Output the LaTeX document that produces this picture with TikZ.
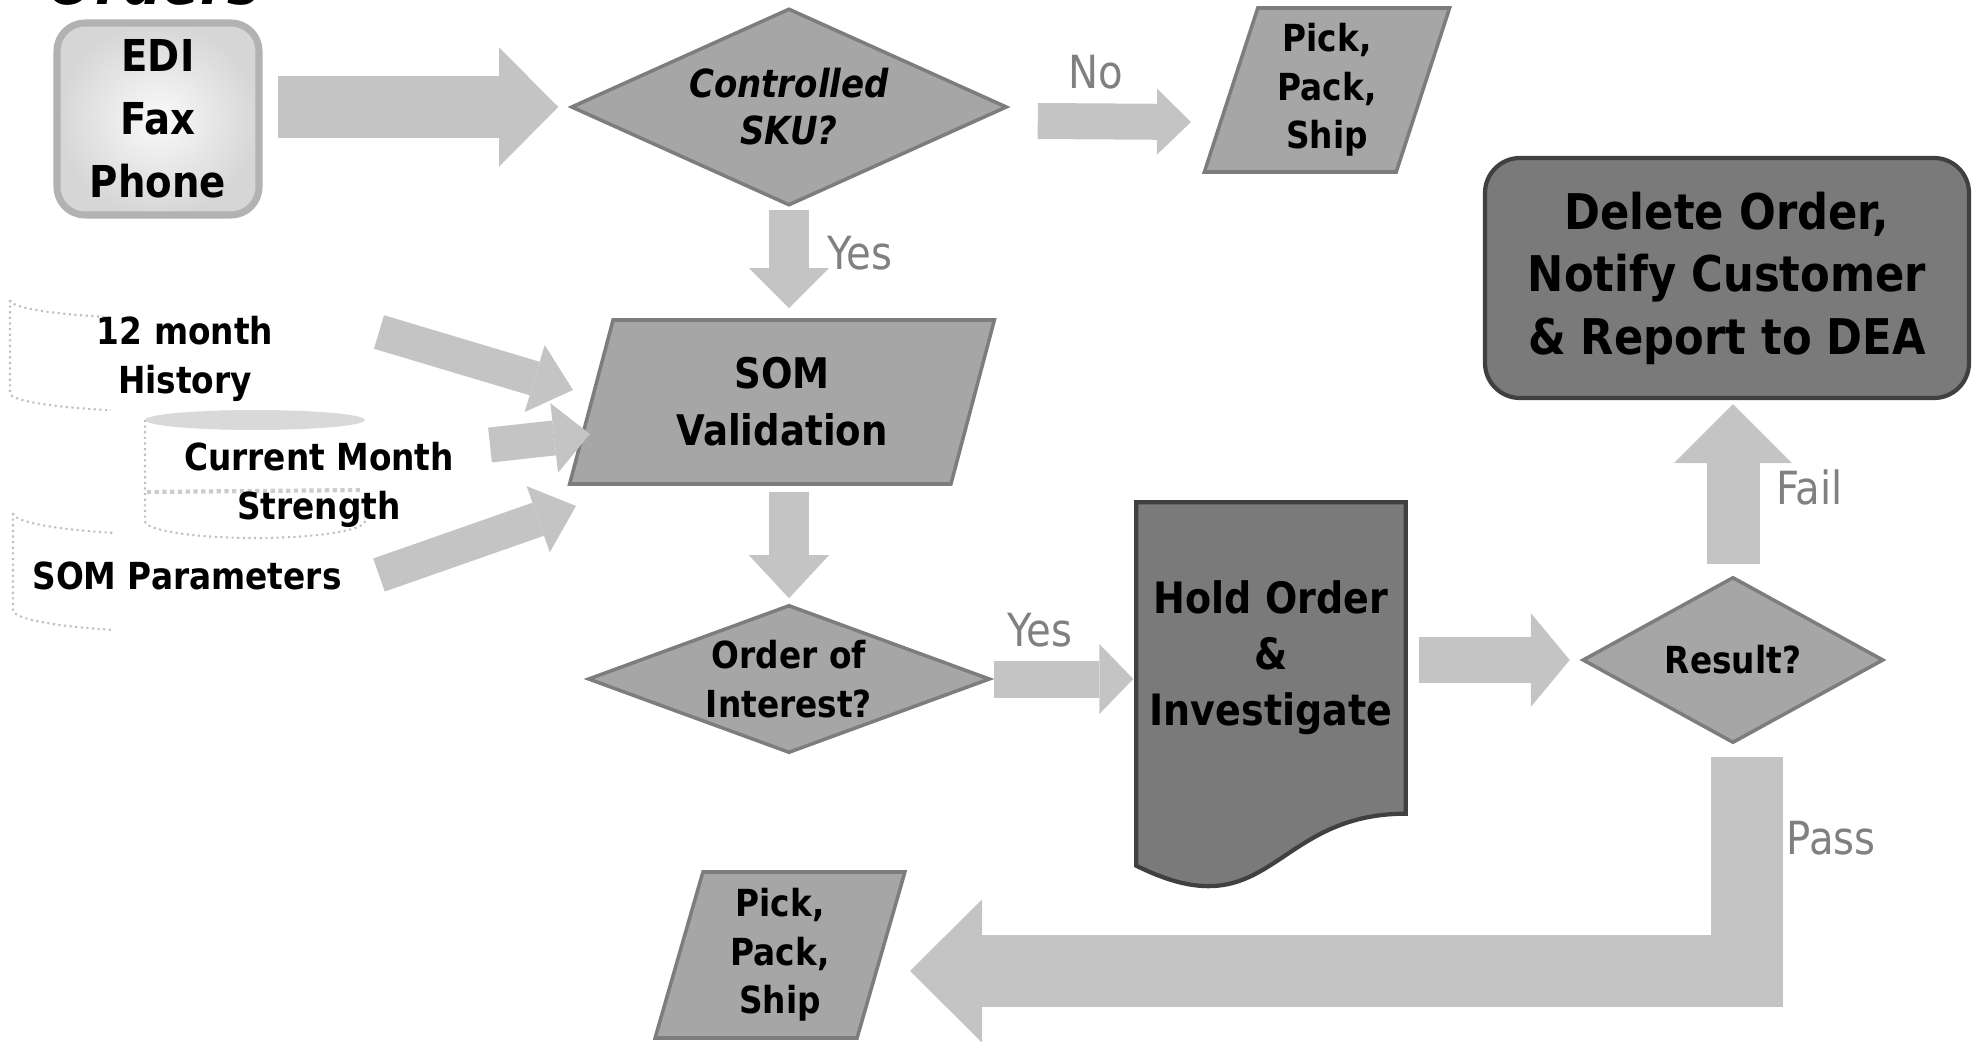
\documentclass[tikz,border=0pt]{standalone}
\usepackage{fontspec}
\setmainfont{DejaVu Sans}[FakeStretch=0.88]
\usetikzlibrary{arrows.meta, positioning, shapes, calc, backgrounds}
\definecolor{ArrowGray}{RGB}{196, 196, 196}
\definecolor{ShapeGray}{RGB}{166, 166, 166}
\definecolor{EdgeGray}{RGB}{125, 125, 125}
\definecolor{DarkGray}{RGB}{122, 122, 122}
\definecolor{LabelGray}{RGB}{128, 128, 128}

\begin{document}
\begin{tikzpicture}[
    every node/.style={font=\bfseries\fontsize{10.6}{13.8}\selectfont, align=center},
    srcbox/.style={draw=gray!60, line width=2pt, rounded corners=0.28cm, inner color=gray!4, outer color=gray!32, minimum width=2.02cm, minimum height=1.92cm, font=\bfseries\fontsize{12.5}{17.9}\selectfont},
    decision/.style={diamond, draw=EdgeGray, fill=ShapeGray, line width=1pt, inner sep=0pt},
    io/.style={trapezium, trapezium stretches=true, draw=EdgeGray, fill=ShapeGray, line width=1pt, inner sep=0pt},
    darkbox/.style={draw=black!75, fill=DarkGray, line width=1.2pt},
    lbl/.style={font=\mdseries\fontsize{13}{13}\selectfont, text=LabelGray, inner sep=1pt},
    bigarrow/.style n args={3}{draw=ArrowGray, line width=#1, -{Triangle[length=#3, width=#2, line width=0pt]}},
    db/.style={draw=gray!50, densely dotted, line width=0.6pt}
]
\useasboundingbox (0,0) rectangle (19.82,10.41);

\node[anchor=base west, inner sep=0pt, font=\bfseries\itshape\fontsize{18}{18}\selectfont] (title) at (0.47,10.36) {Orders};
\node[srcbox] (src) at (1.58,9.22) {EDI\\Fax\\Phone};
\node[decision, minimum width=4.36cm, minimum height=1.97cm, label={[font=\bfseries\itshape\fontsize{11}{13.4}\selectfont]center:Controlled\\SKU?}] (sku) at (7.89,9.34) {};
\node[io, trapezium left angle=74, trapezium right angle=106, minimum width=2.46cm, minimum height=1.64cm] (shiptop) at (13.27,9.51) {Pick,\\Pack,\\Ship};
\node[darkbox, rounded corners=0.35cm, minimum width=4.84cm, minimum height=2.40cm, font=\bfseries\fontsize{14}{17.8}\selectfont] (delete) at (17.27,7.63) {Delete Order,\\Notify Customer\\\& Report to DEA};
\node[io, trapezium left angle=73, trapezium right angle=107, minimum width=4.26cm, minimum height=1.64cm, font=\bfseries\fontsize{12}{16.2}\selectfont] (som) at (7.82,6.39) {SOM\\Validation};
\node (hist) at (1.85,6.82) {12 month\\History};
\node (cur) at (3.19,5.56) {Current Month\\Strength};
\node (parm) at (1.87,4.65) {SOM Parameters};
\node[decision, minimum width=4.02cm, minimum height=1.48cm, label=center:Order of\\Interest?] (interest) at (7.89,3.62) {};
\node[minimum width=2.68cm, minimum height=3.10cm, font=\bfseries\fontsize{12.3}{15.9}\selectfont] (hold) at (12.71,3.83) {Hold Order\\\&\\Investigate};
\node[decision, minimum width=3.01cm, minimum height=1.66cm, label=center:Result?] (result) at (17.33,3.81) {};
\node[io, trapezium left angle=77, trapezium right angle=103, minimum width=2.50cm, minimum height=1.66cm] (shipbot) at (7.80,0.86) {Pick,\\Pack,\\Ship};

\begin{scope}[on background layer]
\draw[darkbox] (hold.north west) -- (hold.north east) -- (hold.south east) .. controls (hold.south) and ($(hold.south)+(0,-1.19)$) .. ($(hold.south west)+(0,-0.52)$) -- cycle;
\draw[db] (0.10,7.41) arc[start angle=180, end angle=245, x radius=1.75cm, y radius=0.19cm];
\draw[db] (0.10,7.41) -- (0.10,6.48) arc[start angle=180, end angle=245, x radius=1.75cm, y radius=0.19cm];
\fill[gray!30] (2.55,6.21) ellipse[x radius=1.1cm, y radius=0.1cm];
\draw[db] (1.45,6.21) -- (1.45,5.20) arc[start angle=180, end angle=360, x radius=1.1cm, y radius=0.17cm] -- (3.65,5.35);
\draw[db, gray!40, line width=1.2pt] (1.47,5.49) -- (3.63,5.51);
\draw[db] (0.13,5.28) arc[start angle=180, end angle=245, x radius=1.75cm, y radius=0.22cm];
\draw[db] (0.13,5.28) -- (0.13,4.31) arc[start angle=180, end angle=245, x radius=1.75cm, y radius=0.22cm];
\end{scope}

\draw[bigarrow={0.61cm}{1.19cm}{0.59cm}, shorten <=0.15cm, shorten >=0.11cm] (src.east |- sku.west) -- (sku.west);
\draw[bigarrow={0.36cm}{0.66cm}{0.34cm}] ($(sku.east)+(0.29,-0.14)$) -- ($(shiptop)+(-1.36,-0.32)$) node[lbl, midway, above=0.11cm, xshift=-0.19cm] {No};
\draw[bigarrow={0.40cm}{0.80cm}{0.40cm}, shorten <=0.03cm, shorten >=0.10cm] (sku.south) -- (sku.south |- som.north) node[lbl, midway, right=0.15cm, yshift=0.10cm] {Yes};
\draw[bigarrow={0.35cm}{0.70cm}{0.40cm}] ($(hist)+(1.94,0.27)$) -- ($(som)+(-2.09,0.12)$);
\draw[bigarrow={0.35cm}{0.70cm}{0.36cm}] ($(cur)+(1.71,0.40)$) -- ($(som)+(-1.92,-0.32)$);
\draw[bigarrow={0.35cm}{0.70cm}{0.40cm}] ($(parm)+(1.92,0.01)$) -- ($(som)+(-2.06,-1.04)$);
\draw[bigarrow={0.40cm}{0.80cm}{0.43cm}, shorten <=0.06cm, shorten >=0.05cm] (interest.north |- som.south) -- (interest.north);
\draw[bigarrow={0.37cm}{0.70cm}{0.34cm}, shorten <=0.02cm, shorten >=0.03cm] (interest.east) -- (interest.east -| hold.west) node[lbl, midway, above=0.10cm, xshift=-0.24cm] {Yes};
\draw[bigarrow={0.46cm}{0.94cm}{0.39cm}, shorten <=0.13cm, shorten >=0.11cm] (hold.east |- result.west) -- (result.west);
\draw[bigarrow={0.53cm}{1.18cm}{0.59cm}, shorten <=0.11cm, shorten >=0.04cm] (result.north) -- (result.north |- delete.south) node[lbl, midway, right=0.13cm] {Fail};
\draw[bigarrow={0.72cm}{1.43cm}{0.72cm}, line join=miter] ($(result.south)+(0.14,-0.12)$) |- ($(shipbot)+(1.30,-0.16)$) node[lbl, pos=0.25, right=0pt, yshift=0.26cm] {Pass};
\end{tikzpicture}
\end{document}
